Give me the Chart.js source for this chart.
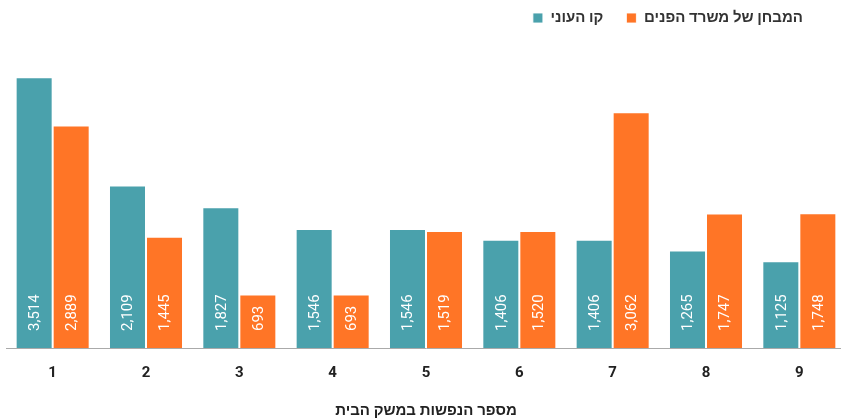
<!DOCTYPE html>
<html lang="he">
<head>
<meta charset="utf-8">
<title>קו העוני מול המבחן של משרד הפנים</title>
<script src="https://cdn.jsdelivr.net/npm/chart.js@4.4.1/dist/chart.umd.min.js"></script>
<style>
  html, body { margin: 0; padding: 0; background: #fff; overflow: hidden; }
  #wrap { width: 846px; height: 420px; }
</style>
</head>
<body>
<div id="wrap"><canvas id="povertyChart" width="846" height="420"></canvas></div>
<script>
// household size vs. monthly threshold (NIS)
const householdSizes = ['1', '2', '3', '4', '5', '6', '7', '8', '9'];
const povertyLine = [3514, 2109, 1827, 1546, 1546, 1406, 1406, 1265, 1125];
const ministryTest = [2889, 1445, 693, 693, 1519, 1520, 3062, 1747, 1748];
const seriesNames = ['קו העוני', 'המבחן של משרד הפנים'];
const axisTitle = 'מספר הנפשות במשק הבית';

const TEAL = '#4aa1ac';
const ORANGE = '#ff7526';
const FONT = "Roboto, 'Liberation Sans', sans-serif";

// value labels written upward from the bottom of each bar
const barLabels = {
    id: 'barLabels',
    afterDatasetsDraw(chart) {
        const ctx = chart.ctx;
        ctx.save();
        ctx.fillStyle = '#fff';
        ctx.font = '15px ' + FONT;
        ctx.textAlign = 'left';
        ctx.textBaseline = 'middle';
        chart.data.datasets.forEach((ds, i) => {
            chart.getDatasetMeta(i).data.forEach((bar, j) => {
                ctx.save();
                ctx.translate(bar.x + 1, bar.base - 17);
                ctx.rotate(-Math.PI / 2);
                ctx.fillText(ds.data[j].toLocaleString('en-US'), 0, 0);
                ctx.restore();
            });
        });
        ctx.restore();
    }
};

// pull the legend up and in from the right edge
const legendNudge = {
    id: 'legendNudge',
    afterLayout(chart) {
        const lg = chart.legend;
        lg.top -= 12.5;
        lg.bottom -= 12.5;
        lg.right -= 20;
    }
};

new Chart(document.getElementById('povertyChart'), {
    type: 'bar',
    data: {
        labels: householdSizes,
        datasets: [
            { label: seriesNames[0], data: povertyLine, backgroundColor: TEAL },
            { label: seriesNames[1], data: ministryTest, backgroundColor: ORANGE }
        ]
    },
    options: {
        responsive: false,
        animation: false,
        layout: { padding: { left: 6, right: 0, top: 0, bottom: 0 } },
        datasets: {
            bar: {
                borderColor: 'rgba(255,255,255,0.85)',
                borderWidth: 1,
                borderSkipped: 'start',
                categoryPercentage: 0.793,
                barPercentage: 1
            }
        },
        plugins: {
            legend: {
                position: 'top',
                align: 'end',
                labels: {
                    boxWidth: 10,
                    boxHeight: 10,
                    padding: 23,
                    color: '#333',
                    font: { family: FONT, size: 15, weight: 'bold' }
                }
            },
            tooltip: { enabled: false }
        },
        scales: {
            x: {
                grid: { display: false, drawTicks: false },
                border: { display: true, color: '#aaa', width: 1 },
                ticks: {
                    padding: 16,
                    color: '#222',
                    font: { family: FONT, size: 15, weight: 'bold' }
                },
                title: {
                    display: true,
                    text: axisTitle,
                    color: '#222',
                    padding: { top: 4, bottom: 0 },
                    font: { family: FONT, size: 15, weight: 'bold' }
                }
            },
            y: {
                display: false,
                min: 0,
                max: 3895
            }
        }
    },
    plugins: [barLabels, legendNudge]
});
</script>
</body>
</html>
